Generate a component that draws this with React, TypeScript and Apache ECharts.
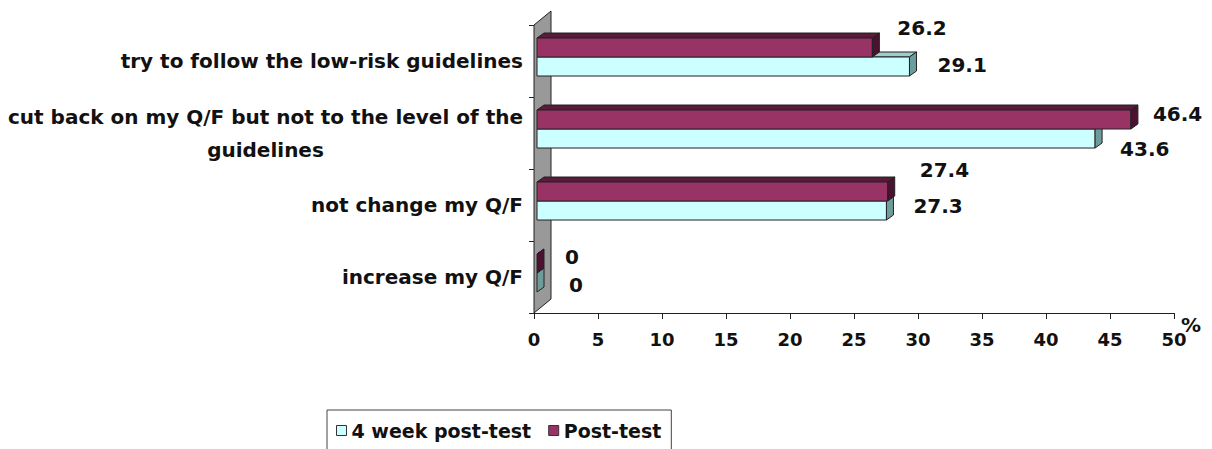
import React, { useEffect, useRef } from "react";
import * as echarts from "echarts";

const categories = [
  "try to follow the low-risk guidelines",
  "cut back on my Q/F but not to the level of the\nguidelines",
  "not change my Q/F",
  "increase my Q/F",
];
const weekValues = [29.1, 43.6, 27.3, 0];
const postValues = [26.2, 46.4, 27.4, 0];
const seriesNames = ["4 week post-test", "Post-test"];
const xMin = 0;
const xMax = 50;
const xInterval = 5;
const xAxisName = "%";

// layout-only: label nudges [dx, dy] relative to the bar end / bar middle
const WEEK_LABEL_NUDGE = [[28, -2], [25, 10], [27, -5], [32, 2]];
const POST_LABEL_NUDGE = [[25, -20], [22, -6], [32, -22], [28, -7]];

const FONT = '"DejaVu Sans", sans-serif';

const STYLES = {
  week: { front: "#CCFFFF", top: "#9CCCCC", side: "#6E9C9C" },
  post: { front: "#993366", top: "#5A1A3A", side: "#4A1230" },
};

function makeRender(kind: "week" | "post") {
  const st = STYLES[kind];
  const nudges = kind === "week" ? WEEK_LABEL_NUDGE : POST_LABEL_NUDGE;
  return (params: any, api: any) => {
    const v = api.value(0);
    const ci = api.value(1);
    const p0 = api.coord([0, ci]);
    const pe = api.coord([v, ci]);
    const band = api.size([0, 1])[1];
    const cy = p0[1];
    const off = 3;
    const xs = p0[0] + off;
    const xe = pe[0] + off;
    const yt = kind === "post" ? cy - (band * 23) / 72 : cy - (band * 4) / 72;
    const yb = kind === "post" ? cy - (band * 4) / 72 : cy + (band * 15) / 72;
    const dx = 7;
    const dy = 5;
    const stroke = "#222";
    const children: any[] = [];
    children.push({
      type: "polygon",
      shape: { points: [[xs, yt], [xs + dx, yt - dy], [xe + dx, yt - dy], [xe, yt]] },
      style: { fill: st.top, stroke, lineWidth: 1 },
    });
    if (xe - xs > 0.5) {
      children.push({
        type: "rect",
        shape: { x: xs, y: yt, width: xe - xs, height: yb - yt },
        style: { fill: st.front, stroke, lineWidth: 1 },
      });
    }
    children.push({
      type: "polygon",
      shape: { points: [[xe, yt], [xe + dx, yt - dy], [xe + dx, yb - dy], [xe, yb]] },
      style: { fill: st.side, stroke, lineWidth: 1 },
    });
    const n = nudges[params.dataIndex] || [27, 0];
    children.push({
      type: "text",
      x: xe + n[0],
      y: (yt + yb) / 2 + n[1],
      style: {
        text: String(v),
        font: `bold 20px ${FONT}`,
        fill: "#111",
        align: "left",
        verticalAlign: "middle",
      },
    });
    return { type: "group", children };
  };
}

function renderWall(params: any, api: any) {
  const first = api.coord([0, 0]);
  const last = api.coord([0, categories.length - 1]);
  const band = api.size([0, 1])[1];
  const x0 = first[0];
  const top = first[1] - band / 2;
  const bottom = last[1] + band / 2;
  const dx = 17;
  const dy = 14;
  return {
    type: "polygon",
    shape: { points: [[x0, top], [x0 + dx, top - dy], [x0 + dx, bottom - dy], [x0, bottom]] },
    style: { fill: "#999999", stroke: "#222", lineWidth: 1 },
  };
}

export default function App() {
  const ref = useRef<HTMLDivElement>(null);
  useEffect(() => {
    if (!ref.current) return;
    const chart = echarts.init(ref.current, null, { renderer: "svg" });
    chart.setOption({
      animation: false,
      backgroundColor: "#ffffff",
      grid: {
        left: 534,
        top: 25,
        width: 640,
        height: 288,
        containLabel: false,
        outerBoundsMode: "none",
      },
      legend: {
        left: 327,
        top: 410,
        orient: "horizontal",
        itemWidth: 10,
        itemHeight: 10,
        itemGap: 17,
        padding: [11, 10, 30, 9],
        borderColor: "#444",
        borderWidth: 1,
        icon: "rect",
        textStyle: { fontFamily: FONT, fontWeight: "bold", fontSize: 19, color: "#111" },
        data: [
          { name: seriesNames[0], itemStyle: { color: STYLES.week.front, borderColor: "#333", borderWidth: 1 } },
          { name: seriesNames[1], itemStyle: { color: STYLES.post.front, borderColor: "#333", borderWidth: 1 } },
        ],
      },
      xAxis: {
        type: "value",
        min: xMin,
        max: xMax,
        interval: xInterval,
        name: xAxisName,
        nameLocation: "end",
        nameGap: 7,
        nameMoveOverlap: false,
        nameTextStyle: {
          fontFamily: FONT,
          fontWeight: "bold",
          fontSize: 20,
          color: "#111",
          verticalAlign: "top",
          padding: [2, 0, 0, 0],
        },
        axisLine: { show: true, lineStyle: { color: "#222", width: 1 } },
        axisTick: { show: true, length: 6, lineStyle: { color: "#222" } },
        splitLine: { show: false },
        axisLabel: {
          margin: 17,
          fontFamily: FONT,
          fontWeight: "bold",
          fontSize: 18,
          color: "#111",
        },
      },
      yAxis: {
        type: "category",
        inverse: true,
        data: categories,
        axisLine: { show: true, lineStyle: { color: "#222", width: 1 } },
        axisTick: { show: true, length: 5, lineStyle: { color: "#222" } },
        axisLabel: {
          margin: 11,
          color: "#111",
          formatter: (val: string) =>
            val.includes("\n")
              ? val.split("\n").map((l) => `{c|${l}}`).join("\n")
              : `{r|${val}}`,
          rich: {
            c: { fontFamily: FONT, fontWeight: "bold", fontSize: 20, lineHeight: 33, align: "center", color: "#111" },
            r: { fontFamily: FONT, fontWeight: "bold", fontSize: 20, lineHeight: 24, align: "right", color: "#111" },
          },
        },
      },
      series: [
        {
          type: "custom",
          name: "wall",
          renderItem: renderWall,
          data: [[0, 0]],
          encode: { x: 0, y: 1 },
          z: 1,
          silent: true,
        },
        {
          type: "custom",
          name: seriesNames[0],
          renderItem: makeRender("week"),
          itemStyle: { color: STYLES.week.front },
          data: weekValues.map((v, i) => [v, i]),
          encode: { x: 0, y: 1 },
          z: 2,
        },
        {
          type: "custom",
          name: seriesNames[1],
          renderItem: makeRender("post"),
          itemStyle: { color: STYLES.post.front },
          data: postValues.map((v, i) => [v, i]),
          encode: { x: 0, y: 1 },
          z: 3,
        },
      ],
    });
    return () => chart.dispose();
  }, []);
  return (
    <div
      ref={ref}
      style={{ position: "fixed", left: 0, top: 0, width: 1212, height: 449, background: "#fff" }}
    />
  );
}
